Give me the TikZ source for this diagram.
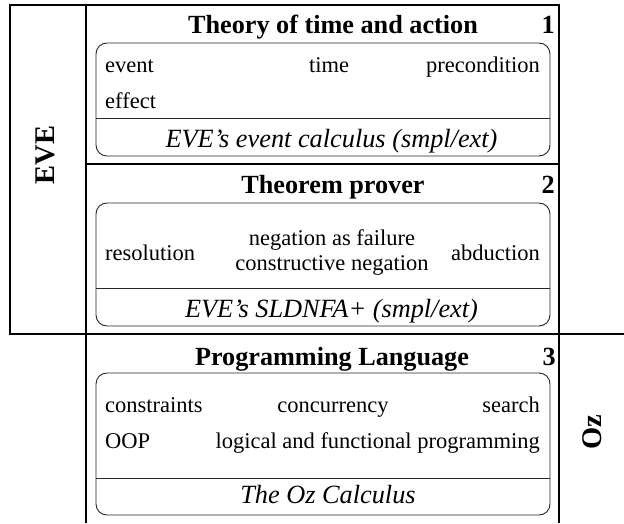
\documentclass[tikz,border=0pt]{standalone}
\usepackage{fontspec}
\setmainfont{Liberation Serif}
\begin{document}
\begin{tikzpicture}[x=1pt,y=-1pt,
  frame/.style={line width=1.8pt, black},
  panel/.style={draw=black!85, line width=0.9pt, rounded corners=11pt},
  rule/.style={draw=black!85, line width=0.9pt},
  item/.style={inner sep=0pt, font=\fontsize{22.5}{27}\selectfont},
  calc/.style={inner sep=0pt, font=\fontsize{26.3}{30}\selectfont\itshape},
  head/.style={inner sep=0pt, font=\fontsize{26.2}{30}\selectfont\bfseries},
  side/.style={inner sep=0pt, font=\fontsize{28.5}{32}\selectfont\bfseries, rotate=90}]
\useasboundingbox (0,0) rectangle (624,523);

% outer frame and column rules
\draw[frame] (10,5) rectangle (559,334);
\draw[frame] (86,5) -- (86,523);
\draw[frame] (559,334) -- (559,523);
\draw[frame] (559,334) -- (624,334);
\draw[frame] (86,164) -- (559,164);

% side labels
\node[side] (eve) at (45,155) {EVE};
\node[side] (oz) at (592,432) {Oz};

% layer 1: theory of time and action
\node[head, anchor=base] (h1) at (333,33) {Theory of time and action};
\node[head, anchor=base east] (n1) at (555,33) {1};
\draw[panel] (96,43) rectangle (550,156);
\draw[rule] (96,118) -- (550,118);
\node[item, anchor=base west] (event) at (105,72) {event};
\node[item, anchor=base] (time) at (329,72) {time};
\node[item, anchor=base east] (precond) at (540,72) {precondition};
\node[item, anchor=base west] (effect) at (105,108) {effect};
\node[calc, anchor=base] (c1) at (331.5,147) {EVE’s event calculus (smpl/ext)};

% layer 2: theorem prover
\node[head, anchor=base] (h2) at (333,193) {Theorem prover};
\node[head, anchor=base east] (n2) at (555,193) {2};
\draw[panel] (96,203) rectangle (550,326);
\draw[rule] (96,288) -- (550,288);
\node[item, anchor=base west] (resol) at (105,260) {resolution};
\node[item, anchor=base] (naf) at (332,245.5) {negation as failure};
\node[item, anchor=base] (cneg) at (332,270.5) {constructive negation};
\node[item, anchor=base east] (abd) at (540,260) {abduction};
\node[calc, anchor=base] (c2) at (331.5,317) {EVE’s SLDNFA+ (smpl/ext)};

% layer 3: programming language
\node[head, anchor=base] (h3) at (332,365) {Programming Language};
\node[head, anchor=base east] (n3) at (556,365) {3};
\draw[panel] (96,373) rectangle (550,515);
\draw[rule] (96,478) -- (550,478);
\node[item, anchor=base west] (constr) at (105,412) {constraints};
\node[item, anchor=base] (conc) at (333,412) {concurrency};
\node[item, anchor=base east] (search) at (540,412) {search};
\node[item, anchor=base west] (oop) at (105,448) {OOP};
\node[item, anchor=base east] (lfp) at (540,448) {logical and functional programming};
\node[calc, anchor=base] (c3) at (328,503) {The Oz Calculus};
\end{tikzpicture}
\end{document}
